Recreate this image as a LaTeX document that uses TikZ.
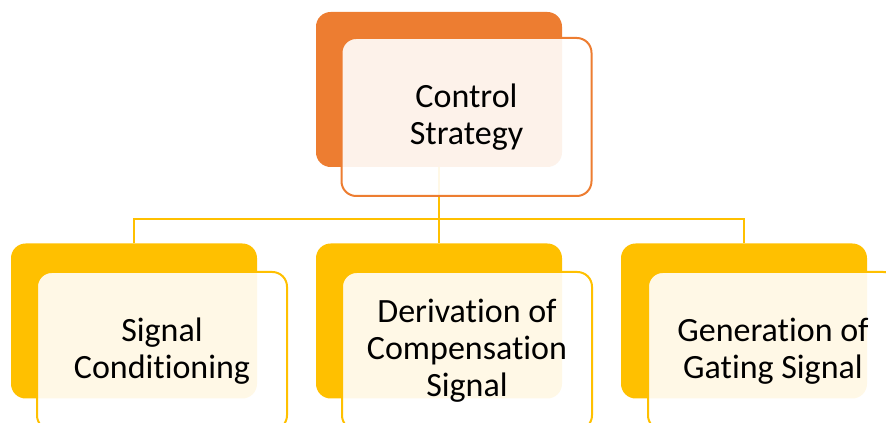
\documentclass[tikz,border=0pt]{standalone}
\usepackage{fontspec}
\setmainfont{Carlito}[Ligatures=NoCommon]
\definecolor{accOrange}{HTML}{ED7D31}
\definecolor{accYellow}{HTML}{FFC000}
\begin{document}
\begin{tikzpicture}[x=0.75pt,y=-0.75pt,
  backbox/.style={rectangle,rounded corners=11pt,minimum width=184.5pt,minimum height=116.25pt,inner sep=0pt,outer sep=0pt},
  cardbox/.style={rectangle,rounded corners=11pt,minimum width=187.5pt,minimum height=118.5pt,inner sep=0pt,outer sep=0pt,
    fill=white,fill opacity=0.9,text opacity=1,line width=1.5pt,align=center,font=\fontsize{25.5}{27.8}\selectfont},
  link/.style={draw=accYellow,line width=1.5pt}]
\useasboundingbox (0,0) rectangle (886,423);
\clip (0,0) rectangle (886,423);
% back boxes
\node[backbox,fill=accOrange] (tfill) at (439,89.5) {};
\node[backbox,fill=accYellow] (lfill) at (134,321) {};
\node[backbox,fill=accYellow] (mfill) at (439,321) {};
\node[backbox,fill=accYellow] (rfill) at (744,321) {};
% connectors
\coordinate (hub) at (439,219);
\draw[link] (tfill.south) -- (hub);
\draw[link] (lfill.north) |- (hub) -| (rfill.north);
\draw[link] (hub) -- (mfill.north);
% cards
\node[cardbox,draw=accOrange] (tcard) at (466.5,117) {Control\\Strategy};
\node[cardbox,draw=accYellow] (lcard) at (162,351) {Signal\\Conditioning};
\node[cardbox,draw=accYellow] (mcard) at (467,351) {Derivation of\\Compensation\\Signal};
\node[cardbox,draw=accYellow] (rcard) at (773,351) {Generation of\\Gating Signal};
\end{tikzpicture}
\end{document}
